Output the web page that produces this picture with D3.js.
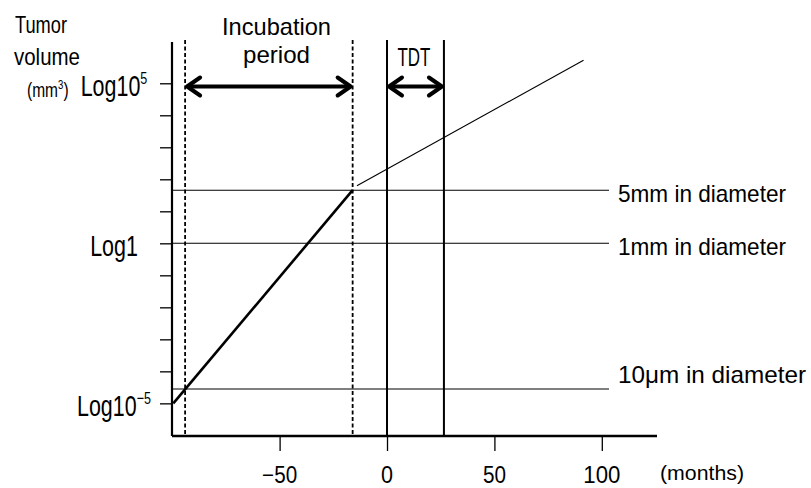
<!DOCTYPE html>
<html>
<head>
<meta charset="utf-8">
<script src="https://d3js.org/d3.v7.min.js"></script>
<style>
  body { margin: 0; background: #fff; }
  svg text { font-family: "Liberation Sans", Arial, sans-serif; fill: #000; }
</style>
</head>
<body>
<div id="chart"></div>
<script>
// tumour volume on a log10 scale (exponents), months on x
var monthTicks = [-50, 0, 50, 100];
var monthLabels = ["−50", "0", "50", "100"];
var logTicks = [-5, -4, -3, -2, -1, 0, 1, 2, 3, 4, 5];
var logLabels = [[-5, "Log10", "−5"], [0, "Log1", ""], [5, "Log10", "5"]];

// vertical reference lines (months)
var incubation = [-94, -16];
var tdt = [0, 26.5];

// diameter levels (log10 of volume) and their labels
var diameterLevels = [1.66, 0, -4.55];
var diameterNames = ["5mm in diameter", "1mm in diameter", "10μm in diameter"];

// growth curve: [month, log10 volume]
var growthEarly = [[-99.5, -5], [-16, 1.66]];
var growthLate = [[-14, 1.8], [91.5, 5.72]];

var W = 811, H = 488;
var svg = d3.select("#chart").append("svg").attr("width", W).attr("height", H);

var x = d3.scaleLinear().domain([-100.1, 125.7]).range([172, 657]);
var y = d3.scaleLinear().domain([-6.02, 6.29]).range([436, 42]);

// squeeze text to the narrow look of the original
function fit(sel, w) {
  return sel.attr("textLength", w).attr("lengthAdjust", "spacingAndGlyphs");
}

// axes
var yAxis = svg.append("g")
  .attr("transform", "translate(" + x(-100.1) + ",0)")
  .call(d3.axisLeft(y).tickValues(logTicks).tickSize(12).tickFormat(""));
yAxis.select(".domain").attr("d", "M0," + y(6.29) + "V" + y(-6.02)).attr("stroke-width", 2.2);
yAxis.selectAll(".tick line").attr("stroke-width", 1.3);

var xAxis = svg.append("g")
  .attr("transform", "translate(0," + y(-6.02) + ")")
  .call(d3.axisBottom(x).tickValues(monthTicks).tickSize(15).tickFormat(""));
xAxis.select(".domain").attr("d", "M" + x(-100.1) + ",0H" + x(125.7)).attr("stroke-width", 2.5);
xAxis.selectAll(".tick line").attr("stroke-width", 1.3);

var xw = [35, 12, 23, 37];
svg.selectAll(".xlab").data(monthTicks).enter().append("text")
  .attr("x", d => x(d)).attr("y", 483)
  .attr("text-anchor", "middle").attr("font-size", 23)
  .each(function(d, i) { fit(d3.select(this), xw[i]); })
  .text((d, i) => monthLabels[i]);

fit(svg.append("text").attr("x", 660).attr("y", 480).attr("font-size", 20), 84).text("(months)");

// y labels
var yl = svg.selectAll(".ylab").data(logLabels).enter().append("text")
  .attr("transform", d => "translate(114," + (y(d[0]) + 13) + ") scale(0.74,1)")
  .attr("text-anchor", "middle").attr("font-size", 29);
yl.append("tspan").text(d => d[1]);
yl.append("tspan").attr("font-size", 17).attr("dy", -12).text(d => d[2]);

fit(svg.append("text").attr("x", 15).attr("y", 33).attr("font-size", 24), 52).text("Tumor");
fit(svg.append("text").attr("x", 14).attr("y", 65).attr("font-size", 24), 66).text("volume");
var mm = svg.append("text").attr("transform", "translate(27,97) scale(0.74,1)").attr("font-size", 21);
mm.append("tspan").text("(mm");
mm.append("tspan").attr("font-size", 13).attr("dy", -8).text("3");
mm.append("tspan").attr("dy", 8).text(")");

// horizontal diameter lines
svg.selectAll(".lvl").data(diameterLevels).enter().append("line")
  .attr("x1", x(-100.1)).attr("x2", 609)
  .attr("y1", d => y(d)).attr("y2", d => y(d))
  .attr("stroke", "#000").attr("stroke-width", 1.1);
svg.selectAll(".lvlt").data(diameterNames).enter().append("text")
  .attr("x", 618).attr("y", (d, i) => y(diameterLevels[i]) + (i == 2 ? -6 : 12))
  .attr("font-size", 24)
  .each(function(d, i) { fit(d3.select(this), i == 2 ? 188 : 168); })
  .text(d => d);

// vertical lines
svg.selectAll(".inc").data(incubation).enter().append("line")
  .attr("x1", d => x(d)).attr("x2", d => x(d)).attr("y1", 40).attr("y2", y(-6.02))
  .attr("stroke", "#000").attr("stroke-width", 1.8).attr("stroke-dasharray", "4,2.5");
svg.selectAll(".tdt").data(tdt).enter().append("line")
  .attr("x1", d => x(d)).attr("x2", d => x(d)).attr("y1", 40).attr("y2", y(-6.02))
  .attr("stroke", "#000").attr("stroke-width", 2);

// growth line
var line = d3.line().x(d => x(d[0])).y(d => y(d[1]));
svg.append("path").attr("d", line(growthEarly)).attr("fill", "none").attr("stroke", "#000").attr("stroke-width", 2.6);
svg.append("path").attr("d", line(growthLate)).attr("fill", "none").attr("stroke", "#000").attr("stroke-width", 1.1);

// double arrows
function arrow(a, b, yy) {
  var x1 = x(a) + 2, x2 = x(b) - 2;
  svg.append("line").attr("x1", x1).attr("x2", x2).attr("y1", yy).attr("y2", yy)
    .attr("stroke", "#000").attr("stroke-width", 4);
  [[x1, 1], [x2, -1]].forEach(function(p) {
    svg.append("path")
      .attr("d", "M" + (p[0] + 13 * p[1]) + "," + (yy - 9) + "L" + p[0] + "," + yy + "L" + (p[0] + 13 * p[1]) + "," + (yy + 9))
      .attr("fill", "none").attr("stroke", "#000").attr("stroke-width", 4)
      .attr("stroke-linecap", "round").attr("stroke-linejoin", "round");
  });
}
arrow(incubation[0], incubation[1], 86.5);
arrow(tdt[0], tdt[1], 86.5);

fit(svg.append("text").attr("x", 276.5).attr("y", 35).attr("text-anchor", "middle").attr("font-size", 24), 109).text("Incubation");
fit(svg.append("text").attr("x", 276.5).attr("y", 63).attr("text-anchor", "middle").attr("font-size", 24), 67).text("period");
fit(svg.append("text").attr("x", 414).attr("y", 66).attr("text-anchor", "middle").attr("font-size", 25), 33).text("TDT");
</script>
</body>
</html>
